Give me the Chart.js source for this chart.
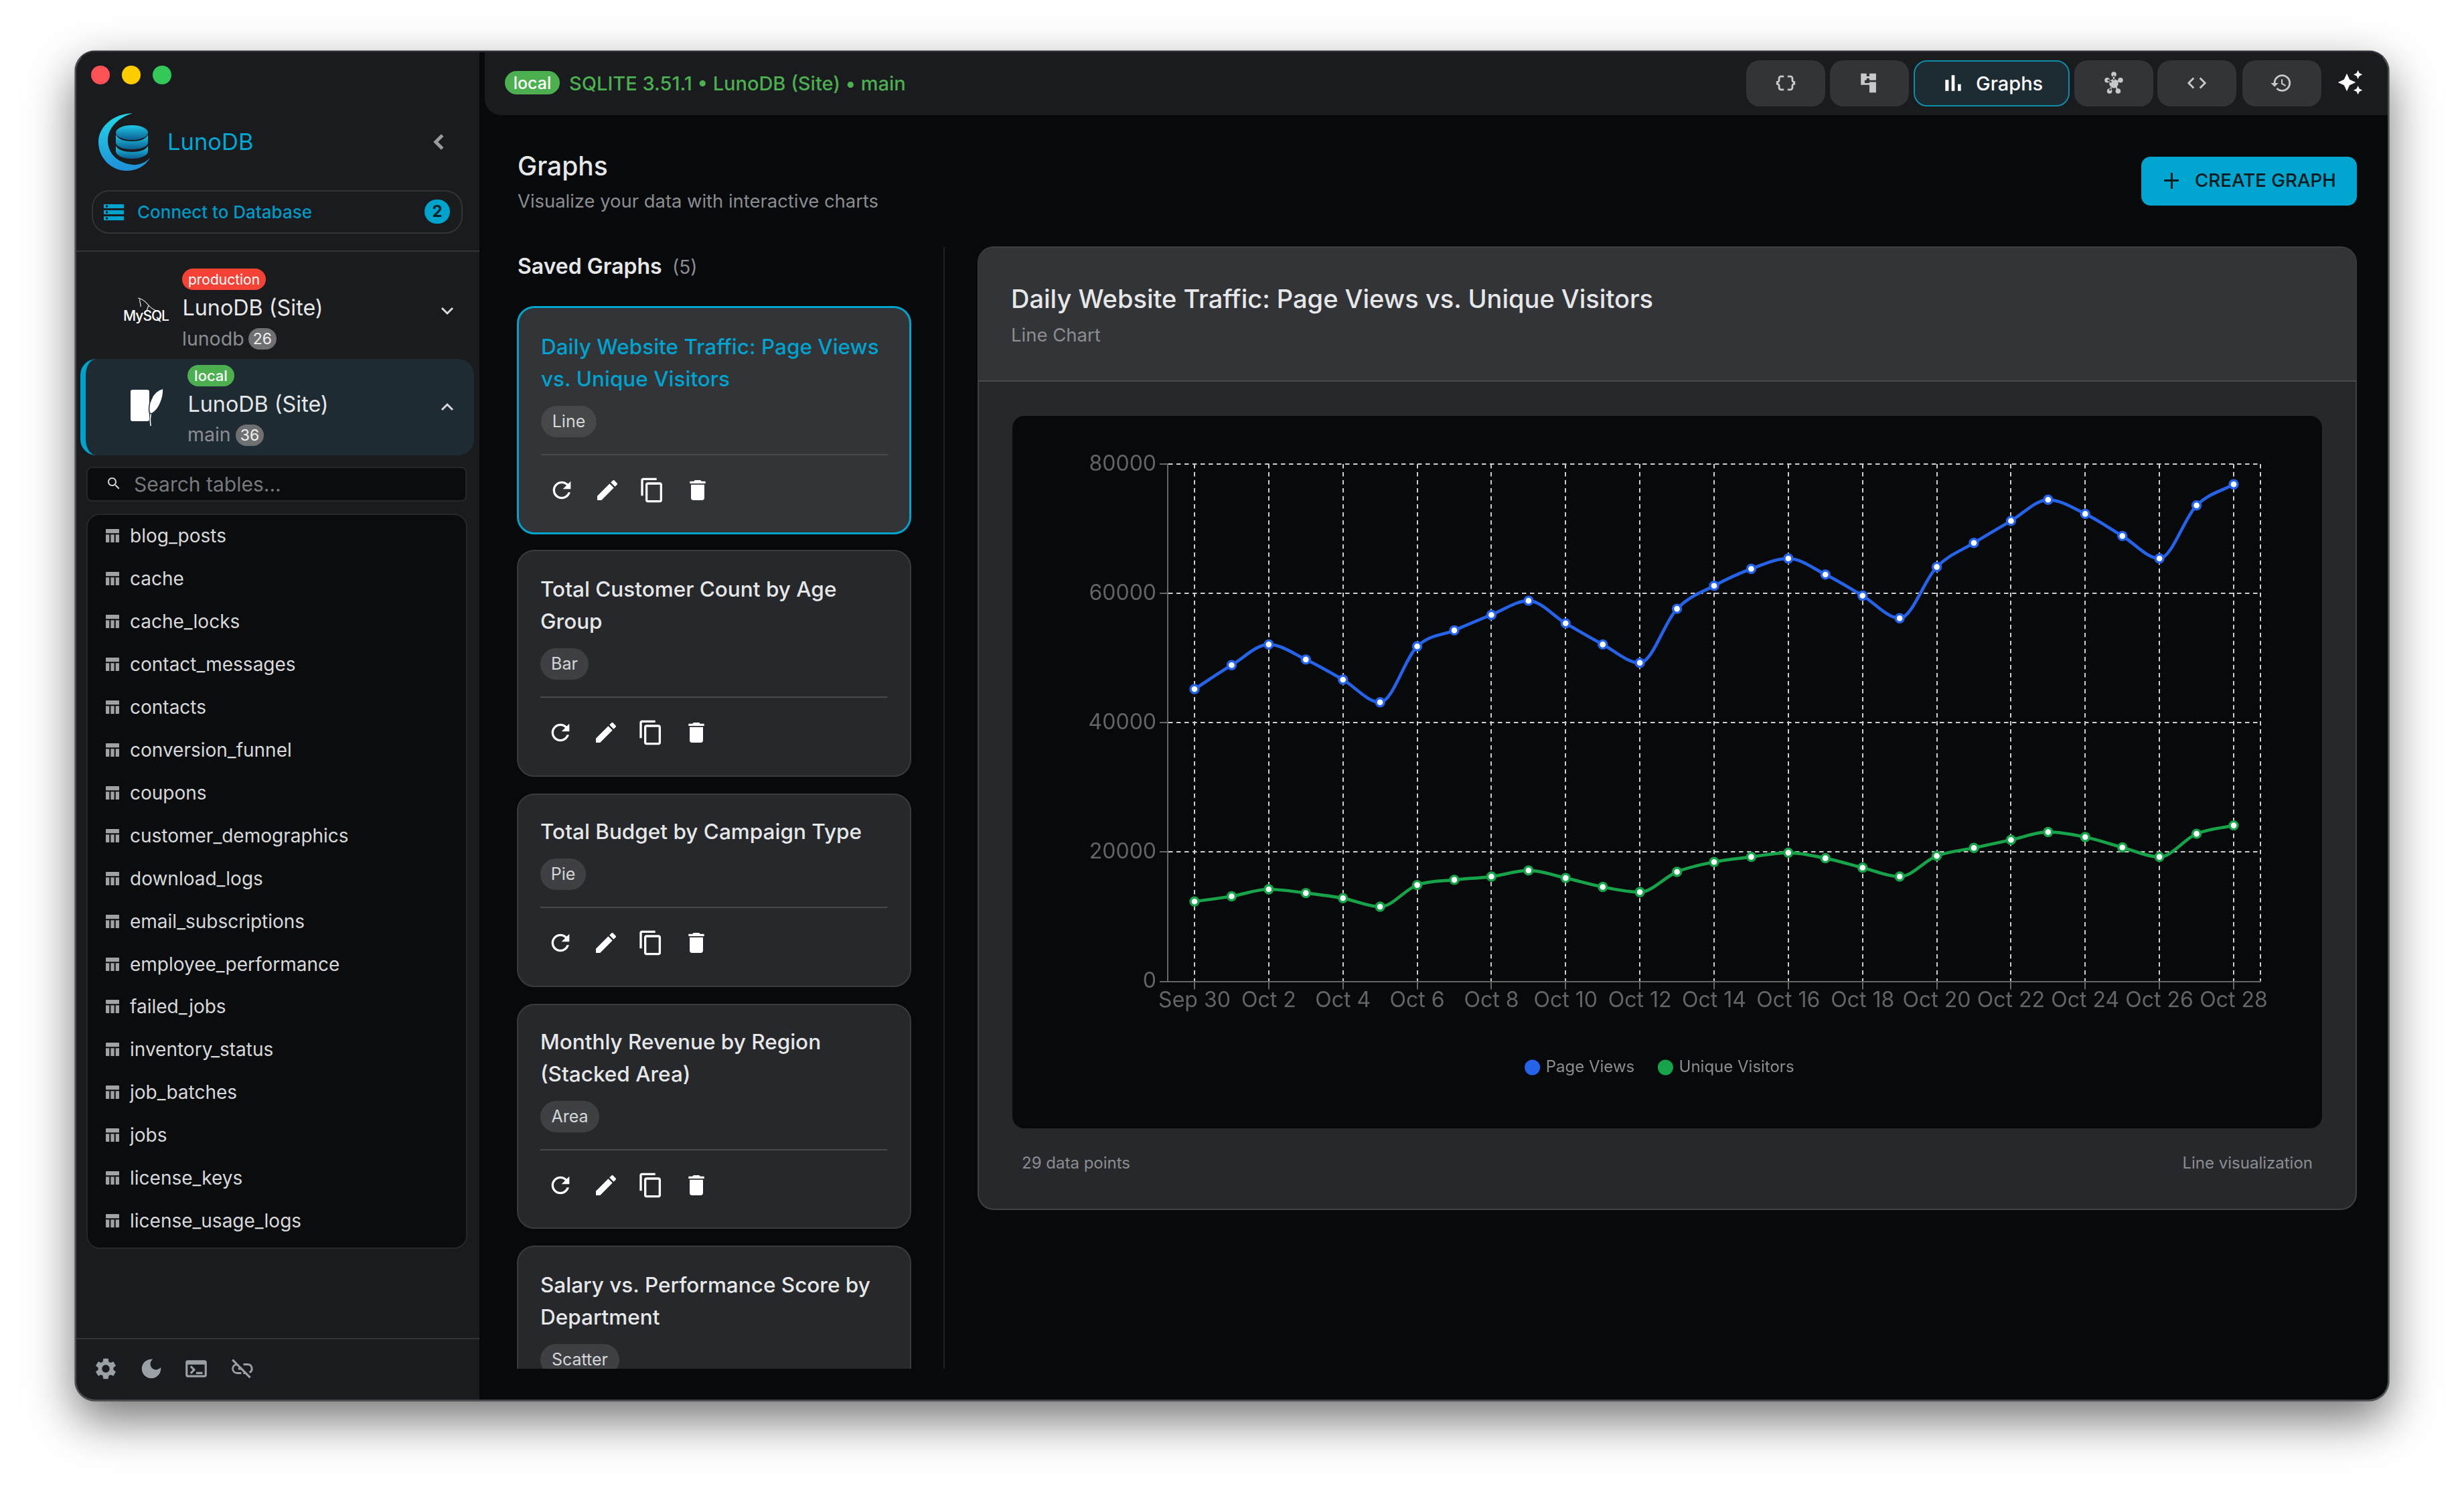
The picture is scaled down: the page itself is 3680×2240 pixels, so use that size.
<!DOCTYPE html>
<html>
<head>
<meta charset="utf-8">
<title>LunoDB Graphs</title>
<script src="https://cdn.jsdelivr.net/npm/chart.js@4"></script>
<style>
  html, body { margin: 0; width: 3680px; height: 2240px; background: #fff; overflow: hidden; }
  body { font-family: Inter, "Noto Sans", sans-serif; position: relative; }
  #win { position: absolute; left: 112px; top: 76px; width: 3456px; height: 2016px; border-radius: 30px;
         box-shadow: 0 28px 70px rgba(0,0,0,.55), 0 0 0 1px rgba(0,0,0,.4); }
  .t { position: absolute; white-space: nowrap; line-height: 1; transform: translateY(-50%); }
  .b { position: absolute; box-sizing: border-box; }
  svg { position: absolute; }
  canvas { position: absolute; left: 1512px; top: 621px; border-radius: 18px; background: #08090b; }
</style>
</head>
<body>
<div id="win"></div>
<div id="ui"></div>
<canvas id="chart" width="1956" height="1064"></canvas>
<script>
// Chart data
const dayLabels = ['Sep 30', 'Oct 1', 'Oct 2', 'Oct 3', 'Oct 4', 'Oct 5', 'Oct 6', 'Oct 7', 'Oct 8', 'Oct 9', 'Oct 10', 'Oct 11', 'Oct 12', 'Oct 13', 'Oct 14', 'Oct 15', 'Oct 16', 'Oct 17', 'Oct 18', 'Oct 19', 'Oct 20', 'Oct 21', 'Oct 22', 'Oct 23', 'Oct 24', 'Oct 25', 'Oct 26', 'Oct 27', 'Oct 28'];
const pageViews = [45200, 48900, 52100, 49770, 46650, 43160, 51800, 54280, 56680, 58860, 55370, 52100, 49260, 57620, 61180, 63800, 65400, 62920, 59650, 56160, 64090, 67800, 71210, 74480, 72300, 68880, 65400, 73600, 76870];
const uniqueVisitors = [12350, 13150, 14240, 13660, 12860, 11550, 14900, 15700, 16200, 17150, 15990, 14600, 13800, 16930, 18460, 19250, 19900, 19040, 17580, 16200, 19400, 20640, 21870, 23100, 22310, 20710, 19250, 22820, 24120];
const yTicks = [0, 20000, 40000, 60000, 80000];

// Text of the surrounding app
const tableNames = ['blog_posts', 'cache', 'cache_locks', 'contact_messages', 'contacts', 'conversion_funnel', 'coupons', 'customer_demographics', 'download_logs', 'email_subscriptions', 'employee_performance', 'failed_jobs', 'inventory_status', 'job_batches', 'jobs', 'license_keys', 'license_usage_logs'];

const dot = (x, y, r) => `M${x - r} ${y}a${r} ${r} 0 1 0 ${2 * r} 0a${r} ${r} 0 1 0 ${-2 * r} 0z`;
const icons = {
  refresh: 'M17.65 6.35C16.2 4.9 14.21 4 12 4c-4.42 0-7.99 3.58-7.99 8s3.57 8 7.99 8c3.73 0 6.84-2.55 7.73-6h-2.08c-.82 2.33-3.04 4-5.65 4-3.31 0-6-2.69-6-6s2.69-6 6-6c1.66 0 3.14.69 4.22 1.78L13 11h7V4l-2.35 2.35z',
  edit: 'M3 17.25V21h3.75L17.81 9.94l-3.75-3.75L3 17.25zM20.71 7.04c.39-.39.39-1.02 0-1.41l-2.34-2.34c-.39-.39-1.02-.39-1.41 0l-1.83 1.83 3.75 3.75 1.83-1.83z',
  copy: 'M16 1H4c-1.1 0-2 .9-2 2v14h2V3h12V1zm3 4H8c-1.1 0-2 .9-2 2v14c0 1.1.9 2 2 2h11c1.1 0 2-.9 2-2V7c0-1.1-.9-2-2-2zm0 16H8V7h11v14z',
  trash: 'M6 19c0 1.1.9 2 2 2h8c1.1 0 2-.9 2-2V7H6v12zM19 4h-3.5l-1-1h-5l-1 1H5v2h14V4z',
  storage: 'M2 20h20v-4H2v4zm2-3h2v2H4v-2zM2 4v4h20V4H2zm4 3H4V5h2v2zm-4 7h20v-4H2v4zm2-3h2v2H4v-2z',
  bars: 'M5 9.2h3V19H5zM10.6 5h2.8v14h-2.8zm5.6 8H19v6h-2.8z',
  search: 'M15.5 14h-.79l-.28-.27C15.41 12.59 16 11.11 16 9.5 16 5.91 13.09 3 9.5 3S3 5.91 3 9.5 5.91 16 9.5 16c1.61 0 3.09-.59 4.23-1.57l.27.28v.79l5 4.99L20.49 19l-4.99-5zm-6 0C7.01 14 5 11.99 5 9.5S7.01 5 9.5 5 14 7.01 14 9.5 11.99 14 9.5 14z',
  gear: 'M19.14 12.94c.04-.3.06-.61.06-.94 0-.32-.02-.64-.07-.94l2.03-1.58c.18-.14.23-.41.12-.61l-1.92-3.32c-.12-.22-.37-.29-.59-.22l-2.39.96c-.5-.38-1.03-.7-1.62-.94l-.36-2.54c-.04-.24-.24-.41-.48-.41h-3.84c-.24 0-.43.17-.47.41l-.36 2.54c-.59.24-1.13.57-1.62.94l-2.39-.96c-.22-.08-.47 0-.59.22L2.74 8.87c-.12.21-.08.47.12.61l2.03 1.58c-.05.3-.09.63-.09.94s.02.64.07.94l-2.03 1.58c-.18.14-.23.41-.12.61l1.92 3.32c.12.22.37.29.59.22l2.39-.96c.5.38 1.03.7 1.62.94l.36 2.54c.05.24.24.41.48.41h3.84c.24 0 .44-.17.47-.41l.36-2.54c.59-.24 1.13-.56 1.62-.94l2.39.96c.22.08.47 0 .59-.22l1.92-3.32c.12-.22.07-.47-.12-.61l-2.01-1.58zM12 15.6c-1.98 0-3.6-1.62-3.6-3.6s1.62-3.6 3.6-3.6 3.6 1.62 3.6 3.6-1.62 3.6-3.6 3.6z',
  table: 'M4 5c0-.6.4-1 1-1h14c.6 0 1 .4 1 1v4H4zM4 10.5h4.2V20H5c-.6 0-1-.4-1-1zM9.9 10.5h4.2V20H9.9zM15.8 10.5H20V19c0 .6-.4 1-1 1h-3.2z',
  history: 'M13 3c-4.97 0-9 4.03-9 9H1l3.89 3.89.07.14L9 12H6c0-3.87 3.13-7 7-7s7 3.13 7 7-3.13 7-7 7c-1.93 0-3.68-.79-4.94-2.06l-1.42 1.42C8.27 19.99 10.51 21 13 21c4.97 0 9-4.03 9-9s-4.03-9-9-9zm-1 5v5l4.28 2.54.72-1.21-3.5-2.08V8H12z',
  code: 'M9.4 16.6 4.8 12l4.6-4.6L8 6l-6 6 6 6 1.4-1.4zm5.2 0 4.6-4.6-4.6-4.6L16 6l6 6-6 6-1.4-1.4z',
  braces: 'M4 7v2c0 .55-.45 1-1 1H2v4h1c.55 0 1 .45 1 1v2c0 1.65 1.35 3 3 3h3v-2H7c-.55 0-1-.45-1-1v-2c0-1.3-.84-2.42-2-2.83v-.34C5.16 11.42 6 10.3 6 9V7c0-.55.45-1 1-1h3V4H7C5.35 4 4 5.35 4 7zM20 7v2c0 .55.45 1 1 1h1v4h-1c-.55 0-1 .45-1 1v2c0 1.65-1.35 3-3 3h-3v-2h3c.55 0 1-.45 1-1v-2c0-1.3.84-2.42 2-2.83v-.34C18.84 11.42 18 10.3 18 9V7c0-.55-.45-1-1-1h-3V4h3c1.65 0 3 1.35 3 3z',
  tree: 'M3 2h6v3h3V2h7v7h-7V7H9v2H7v3h5v-1h7v11h-7v-8H3z',
  hub: dot(12, 2.8, 2.7) + dot(5, 9, 2.7) + dot(19, 9, 2.7) + dot(7.5, 20.5, 2.7) + dot(16.5, 20.5, 2.7) + dot(12, 12.5, 4.8) + 'M11.2 4h1.6v5h-1.6zM6 8l4 2.500-1 1.400-4-2.500zM18 8l-4 2.500 1 1.400 4-2.500zM9 15.500l1.300 1-2 4-1.300-1zM15 15.500l-1.300 1 2 4 1.300-1z',
  sparkle: 'M19 9l1.25-2.75L23 5l-2.75-1.25L19 1l-1.25 2.75L15 5l2.75 1.25L19 9zm-7.5.5L9 4 6.5 9.5 1 12l5.5 2.5L9 20l2.5-5.5L17 12l-5.5-2.5zM19 15l-1.25 2.75L15 19l2.75 1.25L19 23l1.25-2.75L23 19l-2.75-1.25L19 15z',
  moon: 'M12 3c-4.97 0-9 4.03-9 9s4.03 9 9 9 9-4.03 9-9c0-.46-.04-.92-.1-1.36-.98 1.37-2.58 2.26-4.4 2.26-2.98 0-5.4-2.42-5.4-5.4 0-1.81.89-3.42 2.26-4.4-.44-.06-.9-.1-1.36-.1z',
  terminal: 'M20 4H4c-1.1 0-2 .9-2 2v12c0 1.1.9 2 2 2h16c1.1 0 2-.9 2-2V6c0-1.1-.9-2-2-2zm0 14H4V8h16v10zm-2-1h-6v-2h6v2zM7.5 17l-1.4-1.4L8.7 13 6.1 10.4 7.5 9l4 4-4 4z',
  linkoff: 'M17 7h-4v1.9h4a3.1 3.1 0 0 1 1 6l1.4 1.4A5 5 0 0 0 17 7zM2 4.3l3.1 3.1A5 5 0 0 0 7 17h4v-1.9H7a3.1 3.1 0 0 1-.4-6.2l2.1 2.1H8V13h2.6l2.3 2.3V17h1.7l4 4 1.4-1.4L3.4 2.9z'
};

const ui = document.getElementById('ui');
function box(x, y, w, h, css, parent) {
  const d = document.createElement('div');
  d.className = 'b';
  d.style.cssText = `left:${x}px;top:${y}px;width:${w}px;height:${h}px;${css || ''}`;
  (parent || ui).appendChild(d);
  return d;
}
function text(x, cy, s, size, color, weight, parent, right) {
  const d = document.createElement('div');
  d.className = 't';
  d.textContent = s;
  d.style.cssText = `${right ? 'right:' + (3680 - x) : 'left:' + x}px;top:${cy}px;font-size:${size}px;color:${color};font-weight:${weight || 400};`;
  (parent || ui).appendChild(d);
  return d;
}
function icon(name, cx, cy, size, color, parent) {
  const s = document.createElementNS('http://www.w3.org/2000/svg', 'svg');
  s.setAttribute('viewBox', '0 0 24 24');
  s.setAttribute('width', size);
  s.setAttribute('height', size);
  s.style.left = (cx - size / 2) + 'px';
  s.style.top = (cy - size / 2) + 'px';
  s.innerHTML = `<path fill="${color}" d="${icons[name]}"/>`;
  (parent || ui).appendChild(s);
}
function chevron(cx, cy, dir, size, color, w) {
  const pts = { left: '15,4 7,12 15,20', down: '4,8 12,16 20,8', up: '4,16 12,8 20,16' }[dir];
  const s = document.createElementNS('http://www.w3.org/2000/svg', 'svg');
  s.setAttribute('viewBox', '0 0 24 24');
  s.setAttribute('width', size);
  s.setAttribute('height', size);
  s.style.left = (cx - size / 2) + 'px';
  s.style.top = (cy - size / 2) + 'px';
  s.innerHTML = `<polyline points="${pts}" fill="none" stroke="${color}" stroke-width="${w}"/>`;
  ui.appendChild(s);
}
function pill(x, y, w, h, bg, label, size, color, weight, parent) {
  const d = box(x, y, w, h, `background:${bg};border-radius:${h / 2}px;`, parent);
  const t = text(0, h / 2, label, size, color, weight, d);
  t.style.left = '0'; t.style.width = '100%'; t.style.textAlign = 'center';
}
function rawSvg(markup) {
  const d = document.createElement('div');
  d.innerHTML = markup;
  ui.appendChild(d);
}

const SIDE = '#1a1b1e', MAIN = '#08090b', CARD = '#27282b', RAISED = '#333437', EDGE = '#3a3b3e';
const ACCENT = '#00a3cc', GREEN = '#4caf50', MUTED = '#8b8d91', LIGHT = '#e6e7e9';

// window surfaces
box(112, 76, 3456, 2016, `background:${MAIN};border-radius:30px;overflow:hidden;`);
box(112, 76, 604, 2016, `background:${SIDE};border-radius:30px 0 0 30px;`);
box(724, 76, 2844, 96, `background:${SIDE};border-radius:0 30px 0 24px;`);

// traffic lights
[['#ff5257', 150], ['#ffcc00', 196], ['#34c759', 242]].forEach(l => box(l[1] - 14, 98, 28, 28, `background:${l[0]};border-radius:50%;`));

// logo
rawSvg(`<svg style="left:146px;top:168px" width="80" height="88" viewBox="0 0 80 88">
  <defs><linearGradient id="g1" x1="0" y1="0" x2="0" y2="1"><stop offset="0" stop-color="#22d8e6"/><stop offset="1" stop-color="#1f8fd8"/></linearGradient>
  <linearGradient id="g2" x1="0" y1="0" x2="0" y2="1"><stop offset="0" stop-color="#1fc8e8"/><stop offset="1" stop-color="#0b5f92"/></linearGradient></defs>
  <path fill="url(#g1)" d="M52 1C22 2 1 22 1 44c0 25 20 43 42 43 15 0 28-7 35-19-9 9-21 12-32 9C28 73 15 60 15 42 15 23 30 8 52 1z"/>
  <ellipse cx="51" cy="30" rx="24" ry="11" fill="url(#g2)"/>
  <path fill="url(#g2)" d="M27 33c3 7 13 10 24 10s21-3 24-10v12c0 6-11 10-24 10S27 51 27 45z"/>
  <path fill="url(#g2)" d="M27 50c3 6 13 9 24 9s21-3 24-9v8c0 6-11 11-24 11S27 64 27 58z"/>
</svg>`);
text(250, 212, 'LunoDB', 34.5, '#00a8d6');
chevron(657, 212, 'left', 30, '#9a9b9e', 4);

// connect button
box(137, 284, 554, 65, 'border:2px solid #333437;border-radius:26px;');
icon('storage', 170, 317, 36, ACCENT);
text(205, 317, 'Connect to Database', 26, '#0099c6', 500);
pill(634, 298, 38, 36, ACCENT, '2', 24, '#08202a', 700);
box(112, 374, 604, 2, 'background:#333437;');

// connections
pill(272, 401, 125, 32, '#f44336', 'production', 21, '#fff');
text(272.5, 460, 'LunoDB (Site)', 32.3, LIGHT);
text(272, 506, 'lunodb', 28.5, MUTED);
pill(371, 490, 42, 32, '#6f7072', '26', 23, '#f0f0f0');
text(184, 471, 'MySQL', 21, '#fff', 500).style.letterSpacing = '-1px';
rawSvg(`<svg style="left:202px;top:444px" width="36" height="26" viewBox="0 0 36 26">
  <path fill="none" stroke="#e8e8e8" stroke-width="1.2" d="M4 1c6 1 12 6 16 11 3 4 7 6 11 8M7 2c-2 3 2 7 1 12M20 12l-3 8"/>
</svg>`);
chevron(668, 464, 'down', 24, '#d8d9db', 3);

box(120, 536, 588, 144, `background:#1e2b33;border-radius:24px;border-left:8px solid ${ACCENT};`);
pill(280, 545, 70, 32, GREEN, 'local', 22, '#fff', 500);
text(280.5, 604, 'LunoDB (Site)', 32.3, LIGHT);
text(280, 649, 'main', 28.5, MUTED);
pill(352, 634, 42, 32, '#6f7072', '36', 23, '#f0f0f0');
box(195, 582, 28, 47, 'background:#fff;border-radius:3px;');
rawSvg(`<svg style="left:192px;top:578px" width="56" height="60" viewBox="0 0 56 60">
  <path fill="none" stroke="#fff" stroke-width="1.5" d="M33 58c-1-8-1-14 1-20"/>
  <path fill="#fff" stroke="#1e2b33" stroke-width="1.5" d="M52 2c-8 2-15 8-18 16-3 6-4 13-3 20l3 2c6-3 11-9 14-17 3-7 4-14 4-21z"/>
</svg>`);
chevron(668, 608, 'up', 24, '#d8d9db', 3);

// table search and list
box(129, 697, 568, 52, `background:#0b0c0e;border:2px solid #26272a;border-radius:8px;`);
icon('search', 170, 722, 24, '#d0d1d3');
text(200, 723, 'Search tables...', 30, '#77797d');
box(129, 767, 569, 1098, 'background:#0b0c0e;border:2px solid #26272a;border-radius:20px;');
tableNames.forEach((name, i) => {
  const cy = 800 + i * 63.95;
  icon('table', 168, cy, 30, '#a0a2a6');
  text(194, cy, name, 28, '#d8d9db');
});

// sidebar footer
box(112, 1998, 604, 2, 'background:#333437;');
icon('gear', 158, 2044, 38, '#9aa0a6');
icon('moon', 226, 2044, 38, '#9aa0a6');
icon('terminal', 293, 2044, 38, '#9aa0a6');
icon('linkoff', 362, 2044, 38, '#9aa0a6');

// top bar
pill(754, 106, 82, 35, GREEN, 'local', 25, '#fff', 500);
text(850, 124, 'SQLITE 3.51.1 • LunoDB (Site) • main', 29, GREEN, 500);
[[2608, 'braces', 2667], [2733, 'tree', 2792], [3098, 'hub', 3157], [3222, 'code', 3281], [3349, 'history', 3407]].forEach(b => {
  box(b[0], 90, 118, 69, `background:${RAISED};border-radius:20px;`);
  icon(b[1], b[2], 124, 34, '#c8c9cb');
});
box(2858, 90, 233, 69, 'background:#1d2b33;border:2.5px solid #0d8ea6;border-radius:20px;');
icon('bars', 2917, 124, 40, '#fff');
text(2951, 124, 'Graphs', 29, '#fff', 500);
icon('sparkle', 3510, 123, 40, '#fff');

// page header
text(773, 247, 'Graphs', 39, LIGHT, 500);
text(773, 301, 'Visualize your data with interactive charts', 27.4, MUTED);
box(3198, 234, 322, 73, `background:#00a6d0;border-radius:14px;`);
box(3232, 268, 22, 3, 'background:#0b1a20;');
box(3241.5, 258, 3, 24, 'background:#0b1a20;');
text(3278, 270, 'CREATE GRAPH', 27.7, '#0b1a20', 500);

// saved graph list
text(773, 398, 'Saved Graphs', 32, LIGHT, 600);
text(1004, 399, '(5)', 28, MUTED);
box(1409, 369, 2, 1675, 'background:#222326;');

const list = box(0, 0, 3680, 2044, 'overflow:hidden;');
function graphCard(top, h, firstLine, lines, chip, chipW, active) {
  box(772, top, 589, h, active
    ? `background:${RAISED};border:3.5px solid ${ACCENT};border-radius:26px;`
    : `background:${CARD};border:2.5px solid ${EDGE};border-radius:26px;`, list);
  const dx = active ? 1 : 0;
  lines.forEach((l, i) => text(807 + dx, firstLine + i * 48, l, 31.5, active ? '#00a3cf' : LIGHT, 500, list));
  const last = firstLine + (lines.length - 1) * 48;
  pill(807 + dx, last + 63 - 23.5, chipW, 47, active ? '#464749' : '#3f4043', chip, 25, '#d5d6d8', 400, list);
  box(807 + dx, last + 111.5, 518, 2, 'background:#48494b;', list);
  [['refresh', 30], ['edit', 98], ['copy', 165], ['trash', 233]].forEach(ic => icon(ic[0], 807 + dx * 2 + ic[1], last + 166, 40, '#fff', list));
}
graphCard(457, 341, 518, ['Daily Website Traffic: Page Views', 'vs. Unique Visitors'], 'Line', 83, true);
graphCard(821, 339, 880, ['Total Customer Count by Age', 'Group'], 'Bar', 72);
graphCard(1185, 289, 1242, ['Total Budget by Campaign Type'], 'Pie', 68);
graphCard(1499, 336, 1556, ['Monthly Revenue by Region', '(Stacked Area)'], 'Area', 88);
graphCard(1860, 339, 1919, ['Salary vs. Performance Score by', 'Department'], 'Scatter', 118);

// graph panel
box(1460, 368, 2060, 1439, `background:${CARD};border:2.5px solid #3f4043;border-radius:24px;`);
box(1461, 370, 2058, 200, `background:${RAISED};border-bottom:2.5px solid #4a4b4e;border-radius:22px 22px 0 0;`);
text(1510, 445.5, 'Daily Website Traffic: Page Views vs. Unique Visitors', 38, LIGHT, 500);
text(1510, 500.5, 'Line Chart', 27.5, MUTED);
text(1526, 1737, '29 data points', 24, MUTED);
text(3454, 1737, 'Line visualization', 24, MUTED, 400, ui, true);

// thin window edge
box(112, 76, 3456, 2016, 'border:2px solid #4c4d50;border-top-color:#2c2d30;border-radius:30px;pointer-events:none;');

// the chart itself
const AREA = { left: 1744, right: 3376, top: 693, bottom: 1465 };
const CANVAS = { left: 1512, top: 621, width: 1956, height: 1064 };
const rightEdge = 28 + 40 / 55.44;
const leftEdge = -40 / 55.44;
const seriesColors = ['#2563eb', '#16a34a'];
const gridDash = [6.5, 5.5];
const chart = new Chart(document.getElementById('chart').getContext('2d'), {
  type: 'line',
  data: {
    datasets: [
      { label: 'Page Views', data: pageViews.map((v, i) => ({ x: i, y: v })), borderColor: seriesColors[0] },
      { label: 'Unique Visitors', data: uniqueVisitors.map((v, i) => ({ x: i, y: v })), borderColor: seriesColors[1] }
    ].map(d => Object.assign(d, {
      backgroundColor: d.borderColor,
      cubicInterpolationMode: 'monotone',
      borderWidth: 4.7,
      pointRadius: 6,
      pointBorderWidth: 3.4,
      pointBackgroundColor: '#fff',
      pointBorderColor: d.borderColor,
      clip: false
    }))
  },
  options: {
    responsive: false,
    animation: false,
    devicePixelRatio: 1,
    layout: { padding: { left: 72, right: CANVAS.left + CANVAS.width - AREA.right, top: AREA.top - CANVAS.top, bottom: 69 } },
    plugins: {
      tooltip: { enabled: false },
      legend: {
        position: 'bottom',
        labels: {
          color: '#8b8d91',
          font: { family: 'Inter', size: 24 },
          usePointStyle: true,
          boxHeight: 16.3,
          boxWidth: 16.3,
          padding: 38,
          generateLabels: c => c.data.datasets.map((d, i) => ({
            text: d.label, fillStyle: seriesColors[i], strokeStyle: seriesColors[i], lineWidth: 0,
            fontColor: '#8b8d91', pointStyle: 'circle', datasetIndex: i
          }))
        }
      }
    },
    scales: {
      x: {
        type: 'linear',
        min: leftEdge,
        max: rightEdge,
        afterBuildTicks: s => {
          s.ticks = dayLabels.map((_, i) => ({ value: i })).filter(t => t.value % 2 === 0);
          s.ticks.push({ value: rightEdge });
        },
        afterFit: s => { s.height = 78.5; },
        ticks: {
          autoSkip: false,
          maxRotation: 0,
          color: '#636467',
          font: { family: 'Inter', size: 32 },
          padding: -2,
          callback: v => dayLabels[v] || ''
        },
        border: { color: '#666', width: 2, dash: gridDash },
        grid: {
          color: '#cfcfcf',
          lineWidth: 2,
          tickLength: 12,
          tickWidth: 2,
          tickColor: c => c.tick && c.tick.value === rightEdge ? 'transparent' : '#666'
        }
      },
      y: {
        min: yTicks[0],
        max: yTicks[yTicks.length - 1],
        afterBuildTicks: s => { s.ticks = yTicks.map(v => ({ value: v })); },
        afterFit: s => { s.width = AREA.left - CANVAS.left - 72; },
        ticks: {
          color: '#636467',
          font: { family: 'Inter', size: 32 },
          padding: 5,
          callback: v => String(v)
        },
        border: { color: '#666', width: 2, dash: gridDash },
        grid: { color: '#cfcfcf', lineWidth: 2, tickLength: 12, tickWidth: 2, tickColor: '#666' }
      }
    }
  }
});
</script>
</body>
</html>
